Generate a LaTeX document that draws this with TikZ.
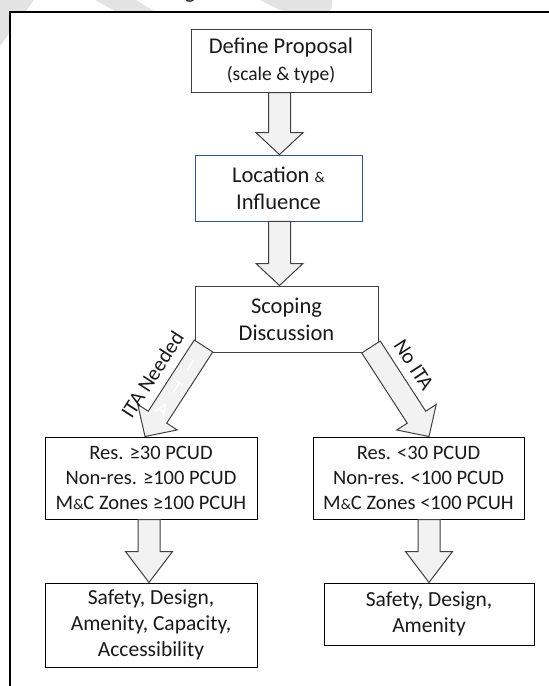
\documentclass[tikz,border=0pt]{standalone}
\usepackage{fontspec}
\setmainfont{Carlito}
\usetikzlibrary{calc}
\definecolor{txt}{HTML}{1A1A1A}
\definecolor{afill}{HTML}{F2F2F2}
\definecolor{aline}{HTML}{404040}
\definecolor{locline}{HTML}{2F5597}
\definecolor{wm}{HTML}{E3E3E3}
% block arrow: [head length]{name}{start}{end}
\newcommand{\blockarr}[4][22pt]{%
  \path (#3) coordinate (#2-s) (#4) coordinate (#2-e);
  \path ($(#2-e)!#1!(#2-s)$) coordinate (#2-h);
  \draw[arrowbody] ($(#2-s)!11pt!90:(#2-e)$) -- ($(#2-h)!11pt!90:(#2-e)$)
    -- ($(#2-h)!23.5pt!90:(#2-e)$) -- (#2-e) -- ($(#2-h)!23.5pt!-90:(#2-e)$)
    -- ($(#2-h)!11pt!-90:(#2-e)$) -- ($(#2-s)!11pt!-90:(#2-e)$) -- cycle;
}
\begin{document}
\begin{tikzpicture}[x=1pt,y=-1pt,
  every node/.style={text=txt},
  box/.style={draw=black, line width=1pt, fill=white, inner sep=0pt, align=center},
  titlefont/.style={font=\fontsize{22.5}{27}\selectfont},
  bodyfont/.style={font=\fontsize{20.5}{25}\selectfont},
  outfont/.style={font=\fontsize{21.5}{26}\selectfont},
  arrowbody/.style={draw=aline, line width=1pt, fill=afill, line join=miter},
  difflabel/.style={font=\fontsize{21}{21}\selectfont, inner sep=0pt, sloped},
  framel/.style={line width=1.8pt, draw=black}]
\useasboundingbox (0,0) rectangle (549,686);
\clip (0,0) rectangle (549,686);
% faint watermark remnants above the frame
\fill[wm] (0,0) -- (34,0) -- (0,46) -- cycle;
\fill[wm] (95,0) -- (136,0) -- (162,16) -- (124,16) -- cycle;
\fill[wm] (260,0) -- (332,0) -- (332,5) .. controls (332,12) and (325,15) .. (318,15) -- (290,15) -- cycle;
\begin{scope}
  \clip (150,0) rectangle (250,6);
  \node[font=\fontsize{22}{22}\selectfont, anchor=base, inner sep=0pt] (gfrag) at (190,-1.5) {g};
\end{scope}
% frame
\fill[white] (10,12) rectangle (570,700);
\draw[framel] (570,12) -- (10,12) -- (10,700);
% boxes
\node[box, titlefont, draw=aline, minimum width=180pt, minimum height=63pt] (def) at (281,60.5)
  {Define Proposal\\{\fontsize{19.5}{19.5}\selectfont (scale \& type)}};
\node[box, titlefont, draw=locline, line width=0.8pt, minimum width=167pt, minimum height=66pt] (loc) at (278.5,188)
  {Location {\fontsize{15}{15}\selectfont\&}\\Influence};
\node[box, titlefont, draw=aline, minimum width=183pt, minimum height=66pt] (scop) at (286.5,319)
  {Scoping\\Discussion};
\node[box, bodyfont, minimum width=212pt, minimum height=82pt] (resL) at (151,478)
  {Res. ≥30 PCUD\\Non-res. ≥100 PCUD\\M{\fontsize{15}{15}\selectfont\&}C Zones ≥100 PCUH};
\node[box, bodyfont, minimum width=211pt, minimum height=82pt] (resR) at (418.5,478)
  {Res. <30 PCUD\\Non-res. <100 PCUD\\M{\fontsize{15}{15}\selectfont\&}C Zones <100 PCUH};
\node[box, outfont, minimum width=212pt, minimum height=84pt] (outL) at (151,625)
  {Safety, Design,\\Amenity, Capacity,\\Accessibility};
\node[box, outfont, minimum width=210pt, minimum height=62pt] (outR) at (429,614)
  {Safety, Design,\\Amenity};
% arrow axes
\coordinate (xa) at (279.5,0);
\coordinate (xl) at (145,0);
\coordinate (xr) at (429,0);
\coordinate (xbl) at (149,0);
% arrows
\blockarr{a1}{def.south -| xa}{loc.north -| xa}
\blockarr{a2}{loc.south -| xa}{scop.north -| xa}
\blockarr[23pt]{a3}{$(scop.south west)+(9,-6.5)$}{resL.north -| xl}
\blockarr[23pt]{a4}{$(scop.south east)+(-7.5,-5.5)$}{resR.north -| xr}
\blockarr[31pt]{a5}{resL.south -| xbl}{outL.north -| xbl}
\blockarr[31pt]{a6}{resR.south -| xr}{outR.north -| xr}
% labels on the diagonal arrows
\path (a3-e) -- (a3-s) node[difflabel, pos=0.52, above=20pt] (lneed) {ITA Needed};
\path (a4-s) -- (a4-e) node[difflabel, pos=0.36, above=19pt] (lno) {No ITA};
\path (a3-s) -- (a3-e)
  node[pos=0.22, rotate=-32.7, text=white, font=\fontsize{19}{19}\selectfont] (wI) {I}
  node[pos=0.46, rotate=-32.7, text=white, font=\fontsize{19}{19}\selectfont] (wT) {T}
  node[pos=0.70, rotate=-32.7, text=white, font=\fontsize{19}{19}\selectfont] (wA) {A};
\end{tikzpicture}
\end{document}
